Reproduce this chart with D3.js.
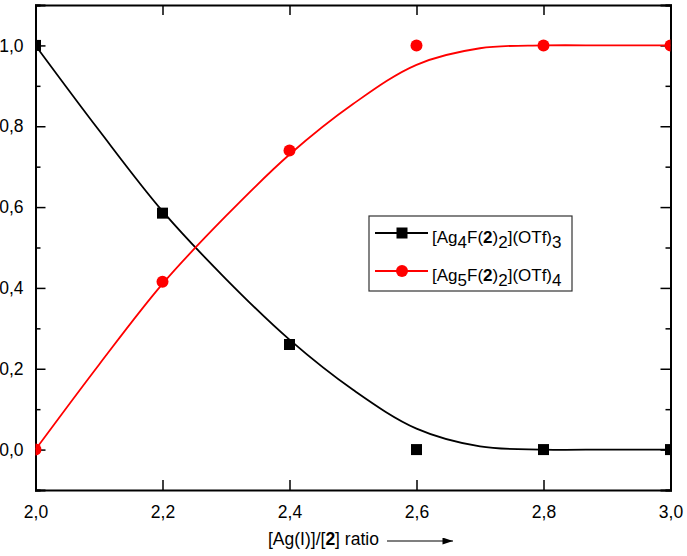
<!DOCTYPE html>
<html>
<head>
<meta charset="utf-8">
<script src="https://cdn.jsdelivr.net/npm/d3@7"></script>
<style>
  body { margin: 0; background: #fff; }
  svg { display: block; font-family: "Liberation Sans", Arial, sans-serif; }
</style>
</head>
<body>
<div id="chart"></div>
<script>
// measured points
const ratio = [2.0, 2.2, 2.4, 2.6, 2.8, 3.0];
const ag4 = [1.0, 0.585, 0.26, 0.0, 0.0, 0.0];
const ag5 = [0.0, 0.415, 0.74, 1.0, 1.0, 1.0];

// fitted curves
const fitX = [2.0, 2.1, 2.2, 2.3, 2.4, 2.5, 2.6, 2.7, 2.8, 2.9, 3.0];
const fitAg4 = [1.0, 0.79, 0.59, 0.422, 0.272, 0.148, 0.052, 0.008, 0, 0, 0];
const fitAg5 = [0.0, 0.21, 0.41, 0.578, 0.73, 0.855, 0.952, 0.993, 1, 1, 1];

const xTicks = [2.0, 2.2, 2.4, 2.6, 2.8, 3.0];
const yTicks = [0.0, 0.2, 0.4, 0.6, 0.8, 1.0];
const yMinor = [-0.1, 0.1, 0.3, 0.5, 0.7, 0.9, 1.1];

const W = 687, H = 556;
const margin = { top: 5, right: 16.5, bottom: 66, left: 35.5 };
const width = W - margin.left - margin.right;
const height = H - margin.top - margin.bottom;

const svg = d3.select("#chart").append("svg")
  .attr("width", W)
  .attr("height", H);

const g = svg.append("g")
  .attr("transform", `translate(${margin.left},${margin.top})`);

const x = d3.scaleLinear().domain([2.0, 3.0]).range([0, width]);
const y = d3.scaleLinear().domain([-0.1, 1.1]).range([height, 0]);

const fmt = d => d3.format(".1f")(d).replace(".", ",");

g.append("clipPath").attr("id", "clip")
  .append("rect").attr("width", width).attr("height", height);

// axes: ticks point inward
g.append("g")
  .attr("transform", `translate(0,${height})`)
  .call(d3.axisBottom(x).tickValues(xTicks).tickSize(-10).tickPadding(16).tickFormat(fmt));
g.append("g")
  .call(d3.axisTop(x).tickValues(xTicks).tickSize(-10).tickFormat(""));
g.append("g")
  .call(d3.axisLeft(y).tickValues(yTicks).tickSize(-10).tickPadding(12).tickFormat(fmt));
g.append("g")
  .attr("transform", `translate(${width},0)`)
  .call(d3.axisRight(y).tickValues(yTicks).tickSize(-10).tickFormat(""));
g.append("g")
  .call(d3.axisLeft(y).tickValues(yMinor).tickSize(-5).tickFormat(""));
g.append("g")
  .attr("transform", `translate(${width},0)`)
  .call(d3.axisRight(y).tickValues(yMinor).tickSize(-5).tickFormat(""));

g.selectAll(".domain").attr("stroke", "#000").attr("stroke-width", 2);
g.selectAll(".tick line").attr("stroke", "#000").attr("stroke-width", 1.5);
g.selectAll(".tick text").attr("font-size", 17.5).attr("fill", "#000")
  .attr("font-family", "Liberation Sans, Arial, sans-serif");

const plot = g.append("g").attr("clip-path", "url(#clip)");

const line = d3.line()
  .x(d => x(d[0]))
  .y(d => y(d[1]))
  .curve(d3.curveCatmullRom.alpha(0.5));

plot.append("path")
  .datum(fitX.map((v, i) => [v, fitAg4[i]]))
  .attr("fill", "none").attr("stroke", "#000").attr("stroke-width", 1.8)
  .attr("d", line);
plot.append("path")
  .datum(fitX.map((v, i) => [v, fitAg5[i]]))
  .attr("fill", "none").attr("stroke", "#ff0000").attr("stroke-width", 1.8)
  .attr("d", line);

plot.selectAll(".sq").data(ratio.map((v, i) => [v, ag4[i]])).enter()
  .append("rect")
  .attr("x", d => x(d[0]) - 5.5).attr("y", d => y(d[1]) - 5.5)
  .attr("width", 11).attr("height", 11).attr("fill", "#000");
plot.selectAll(".ci").data(ratio.map((v, i) => [v, ag5[i]])).enter()
  .append("circle")
  .attr("cx", d => x(d[0])).attr("cy", d => y(d[1]))
  .attr("r", 6).attr("fill", "#ff0000");

// legend
const leg = svg.append("g").attr("transform", "translate(369,216)");
leg.append("rect").attr("width", 203).attr("height", 75)
  .attr("fill", "#fff").attr("stroke", "#333").attr("stroke-width", 1.2);

const legendItems = [
  { color: "#000", shape: "square", parts: [["[Ag"], ["4", "sub"], ["F("], ["2", "b"], [")"], ["2", "sub"], ["](OTf)"], ["3", "sub"]] },
  { color: "#ff0000", shape: "circle", parts: [["[Ag"], ["5", "sub"], ["F("], ["2", "b"], [")"], ["2", "sub"], ["](OTf)"], ["4", "sub"]] }
];

legendItems.forEach((it, i) => {
  const row = leg.append("g").attr("transform", `translate(0,${17 + i * 38})`);
  row.append("line").attr("x1", 6).attr("x2", 59).attr("y1", 0).attr("y2", 0)
    .attr("stroke", it.color).attr("stroke-width", 1.8);
  if (it.shape === "square") {
    row.append("rect").attr("x", 27.5).attr("y", -5.5).attr("width", 11).attr("height", 11).attr("fill", it.color);
  } else {
    row.append("circle").attr("cx", 33).attr("cy", 0).attr("r", 6).attr("fill", it.color);
  }
  const t = row.append("text").attr("x", 63).attr("y", 10).attr("font-size", 17).attr("fill", "#000");
  let shifted = false;
  it.parts.forEach(p => {
    const ts = t.append("tspan").text(p[0]);
    if (p[1] === "sub") { ts.attr("dy", 5); shifted = true; }
    else if (shifted) { ts.attr("dy", -5); shifted = false; }
    if (p[1] === "b") ts.attr("font-weight", "bold");
  });
});

// x-axis title with arrow
const xt = svg.append("text").attr("x", 268).attr("y", 545).attr("font-size", 17.5).attr("fill", "#000");
xt.append("tspan").text("[Ag(I)]/[");
xt.append("tspan").attr("font-weight", "bold").text("2");
xt.append("tspan").text("] ratio");

svg.append("defs").append("marker")
  .attr("id", "arr").attr("viewBox", "0 0 12 8").attr("refX", 12).attr("refY", 4)
  .attr("markerWidth", 12).attr("markerHeight", 7).attr("markerUnits", "userSpaceOnUse")
  .attr("orient", "auto")
  .append("path").attr("d", "M0,0L12,4L0,8Z").attr("fill", "#000");
svg.append("line").attr("x1", 387).attr("x2", 453).attr("y1", 541).attr("y2", 541)
  .attr("stroke", "#000").attr("stroke-width", 1.2).attr("marker-end", "url(#arr)");
</script>
</body>
</html>
